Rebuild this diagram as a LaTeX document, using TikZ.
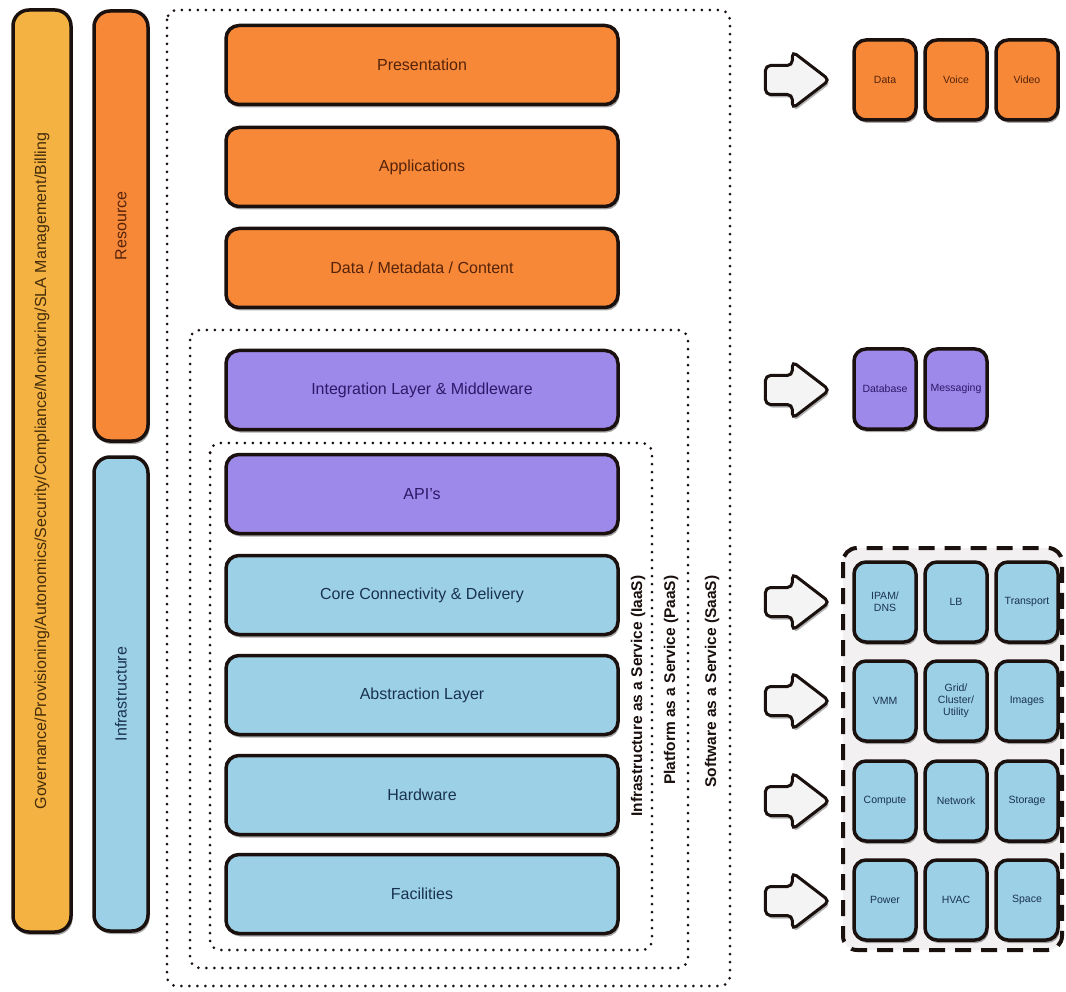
\documentclass[tikz,border=0pt]{standalone}
\usepackage{fontspec}
\setmainfont{Liberation Sans}
\usetikzlibrary{shapes.arrows,shadows}

\definecolor{govfill}{RGB}{244,178,66}
\definecolor{resfill}{RGB}{247,136,56}
\definecolor{purfill}{RGB}{157,137,233}
\definecolor{infill}{RGB}{156,208,230}
\definecolor{edge}{RGB}{26,16,14}
\definecolor{restext}{RGB}{85,35,10}
\definecolor{purtext}{RGB}{45,25,105}
\definecolor{intext}{RGB}{25,50,80}
\definecolor{govtext}{RGB}{70,45,10}
\definecolor{groupfill}{RGB}{243,240,241}
\definecolor{pointerfill}{RGB}{244,244,244}

\tikzset{
  box/.style={draw=edge, line width=3.5pt, rounded corners=13pt, inner sep=0pt,
    drop shadow={shadow xshift=1.5pt, shadow yshift=-3pt, opacity=0.35, fill=black}},
  layer/.style={box, minimum width=392pt, minimum height=79pt,
    font=\fontsize{16}{19}\selectfont},
  bar/.style={box, rounded corners=16pt, font=\fontsize{16}{19}\selectfont},
  tile/.style={box, rounded corners=12pt, minimum width=62pt, minimum height=80pt,
    align=center, font=\fontsize{10.5}{12}\selectfont},
  orangeish/.style={fill=resfill, text=restext},
  purpleish/.style={fill=purfill, text=purtext},
  blueish/.style={fill=infill, text=intext},
  svc/.style={draw=edge, line width=3pt, dash pattern=on 0pt off 8pt,
    line cap=round, rounded corners=10pt},
  svclabel/.style={rotate=90, anchor=east, text=edge,
    font=\bfseries\fontsize{15.5}{18}\selectfont},
  group/.style={draw=edge, line width=4pt, dash pattern=on 16pt off 10pt,
    rounded corners=14pt, fill=groupfill},
  pointer/.style={single arrow, draw=edge, line width=3pt, fill=pointerfill,
    minimum height=64pt, minimum width=56pt, inner sep=13pt,
    single arrow head extend=14pt, single arrow tip angle=75,
    rounded corners=5pt,
    drop shadow={shadow xshift=1.5pt, shadow yshift=-3pt, opacity=0.3, fill=black}}
}

\begin{document}
\begin{tikzpicture}[x=1pt,y=-1pt]
\useasboundingbox[fill=white] (0,0) rectangle (1066,992);

% service model boundaries
\draw[svc] (167,10) rectangle (730,986);
\draw[svc] (190,330) rectangle (688,968);
\draw[svc] (210,443) rectangle (652,950);

% side bars
\node[bar, fill=govfill, text=govtext, minimum width=58pt, minimum height=922pt]
  (gov) at (42,471) {\rotatebox{90}{Governance/Provisioning/Autonomics/Security/Compliance/Monitoring/SLA Management/Billing}};
\node[bar, orangeish, minimum width=54pt, minimum height=430pt]
  (res) at (121,226) {\rotatebox{90}{Resource}};
\node[bar, blueish, minimum width=54pt, minimum height=474pt]
  (infra) at (121,694) {\rotatebox{90}{Infrastructure}};

% stack layers
\node[layer, orangeish] (pres)  at (422,65)  {Presentation};
\node[layer, orangeish] (apps)  at (422,167) {Applications};
\node[layer, orangeish] (data)  at (422,268) {Data / Metadata / Content};
\node[layer, purpleish] (integ) at (422,390) {Integration Layer \& Middleware};
\node[layer, purpleish] (api)   at (422,494) {API's};
\node[layer, blueish]   (core)  at (422,595) {Core Connectivity \& Delivery};
\node[layer, blueish]   (abst)  at (422,695) {Abstraction Layer};
\node[layer, blueish]   (hw)    at (422,795) {Hardware};
\node[layer, blueish]   (fac)   at (422,894) {Facilities};

% service model labels
\node[svclabel] (iaas) at (638,572) {Infrastructure as a Service (IaaS)};
\node[svclabel] (paas) at (671,572) {Platform as a Service (PaaS)};
\node[svclabel] (saas) at (712,572) {Software as a Service (SaaS)};

% pointers
\node[pointer] (p1) at (788,80)  {};
\node[pointer] (p2) at (788,390) {};
\node[pointer] (p3) at (788,602) {};
\node[pointer] (p4) at (788,701) {};
\node[pointer] (p5) at (788,801) {};
\node[pointer] (p6) at (788,901) {};

% presentation tiles
\node[tile, orangeish] (tData)  at (885,80)  {Data};
\node[tile, orangeish] (tVoice) at (956,80)  {Voice};
\node[tile, orangeish] (tVideo) at (1027,80) {Video};

% middleware tiles
\node[tile, purpleish] (tDb)  at (885,389) {Database};
\node[tile, purpleish] (tMsg) at (956,389) {Messaging};

% infrastructure tiles
\draw[group] (843,548) rectangle (1062,950);
\node[tile, blueish] (tIpam)  at (885,602)  {IPAM/\\DNS};
\node[tile, blueish] (tLb)    at (956,602)  {LB};
\node[tile, blueish] (tTrans) at (1027,602) {Transport};
\node[tile, blueish] (tVmm)   at (885,701)  {VMM};
\node[tile, blueish] (tGrid)  at (956,701)  {Grid/\\Cluster/\\Utility};
\node[tile, blueish] (tImg)   at (1027,701) {Images};
\node[tile, blueish] (tComp)  at (885,801)  {Compute};
\node[tile, blueish] (tNet)   at (956,801)  {Network};
\node[tile, blueish] (tStor)  at (1027,801) {Storage};
\node[tile, blueish] (tPow)   at (885,900)  {Power};
\node[tile, blueish] (tHvac)  at (956,900)  {HVAC};
\node[tile, blueish] (tSpace) at (1027,900) {Space};
\end{tikzpicture}
\end{document}
